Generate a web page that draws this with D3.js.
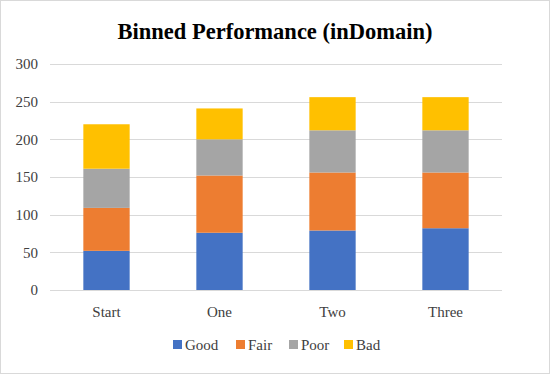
<!DOCTYPE html>
<html>
<head>
<meta charset="utf-8">
<script src="https://cdnjs.cloudflare.com/ajax/libs/d3/7.8.5/d3.min.js"></script>
<style>
  body { margin: 0; background: #fff; }
  text { font-family: "Liberation Serif", "DejaVu Serif", serif; fill: #404040; }
</style>
</head>
<body>
<svg></svg>
<script>
let width = 550, height = 374;

// data
let categories = ["Start", "One", "Two", "Three"];
let seriesNames = ["Good", "Fair", "Poor", "Bad"];
let good = [52, 76, 79, 82];
let fair = [57, 76, 77, 74];
let poor = [52, 48, 56, 56];
let bad = [59, 41, 44, 44];
let yTicks = [0, 50, 100, 150, 200, 250, 300];
let colors = ["#4472c4", "#ed7d31", "#a5a5a5", "#ffc000"];

let svg = d3.select("svg")
    .attr("width", width)
    .attr("height", height);

// border of the chart area
svg.append("rect")
    .attr("x", 0.5).attr("y", 0.5)
    .attr("width", width - 1).attr("height", height - 1)
    .attr("fill", "#fff")
    .attr("stroke", "#d9d9d9");

let table = categories.map((c, i) => ({
    cat: c, Good: good[i], Fair: fair[i], Poor: poor[i], Bad: bad[i]
}));
let stacked = d3.stack().keys(seriesNames)(table);

let x = d3.scaleBand()
    .domain(categories)
    .range([50, 502])
    .paddingInner(0.59)
    .paddingOuter(0.295);

let y = d3.scaleLinear()
    .domain([0, 300])
    .range([290, 64]);

// gridlines
svg.append("g")
    .selectAll("line")
    .data(yTicks)
    .enter()
    .append("line")
    .attr("x1", 50).attr("x2", 502)
    .attr("y1", d => Math.round(y(d)) + 0.5)
    .attr("y2", d => Math.round(y(d)) + 0.5)
    .attr("stroke", "#d9d9d9")
    .attr("stroke-width", 1);

// y labels
svg.append("g")
    .selectAll("text")
    .data(yTicks)
    .enter()
    .append("text")
    .attr("x", 38)
    .attr("y", d => y(d))
    .attr("dy", "0.35em")
    .attr("text-anchor", "end")
    .style("font-size", "15px")
    .text(d => d);

// bars
svg.append("g")
    .selectAll("g")
    .data(stacked)
    .enter()
    .append("g")
    .attr("fill", (d, i) => colors[i])
    .selectAll("rect")
    .data(d => d)
    .enter()
    .append("rect")
    .attr("x", d => x(d.data.cat))
    .attr("width", x.bandwidth())
    .attr("y", d => y(d[1]))
    .attr("height", d => y(d[0]) - y(d[1]));

// category labels
svg.append("g")
    .selectAll("text")
    .data(categories)
    .enter()
    .append("text")
    .attr("x", d => x(d) + x.bandwidth() / 2)
    .attr("y", 317)
    .attr("text-anchor", "middle")
    .style("font-size", "15px")
    .text(d => d);

// title
svg.append("text")
    .attr("x", width / 2)
    .attr("y", 39)
    .attr("text-anchor", "middle")
    .style("font-size", "22.5px")
    .style("font-weight", "bold")
    .style("fill", "#000")
    .text("Binned Performance (inDomain)");

// legend
let legendX = [173, 236, 289, 344];
let legend = svg.append("g")
    .selectAll("g")
    .data(seriesNames)
    .enter()
    .append("g")
    .attr("transform", (d, i) => "translate(" + legendX[i] + ",345)");

legend.append("rect")
    .attr("x", 0).attr("y", -5)
    .attr("width", 9).attr("height", 9)
    .attr("fill", (d, i) => colors[i]);

legend.append("text")
    .attr("x", 12)
    .attr("y", 0)
    .attr("dy", "0.35em")
    .style("font-size", "15px")
    .text(d => d);
</script>
</body>
</html>
